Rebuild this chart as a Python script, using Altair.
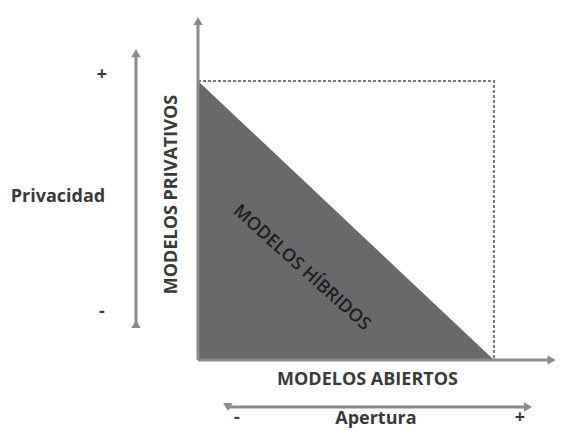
import altair as alt
import pandas as pd

# ---- diagram data (conceptual units: origin = (0,0), corner of dashed box = (1,1)) ----
tri_x = [0.0, 1.0]
tri_y = [1.0, 0.0]

box_x = [0.0, 1.0, 1.0]
box_y = [1.0, 1.0, 0.0]

# axis / arrow segments: x, y, x2, y2
seg_x = [0.0, 0.0, -0.2095, 0.101]
seg_y = [0.0, 0.0, 0.129, -0.1685]
seg_x2 = [0.0, 1.19, -0.2095, 1.115]
seg_y2 = [1.21, 0.0, 1.10, -0.1685]

# arrow heads
head_x = [0.0, 1.195, -0.2095, -0.2095, 0.101, 1.115]
head_y = [1.215, 0.0, 1.10, 0.129, -0.1685, -0.1685]
head_shape = ["triangle-up", "triangle-right", "triangle-up", "triangle-down",
              "triangle-left", "triangle-right"]

# labels
lab_text = ["+", "-", "Privacidad", "MODELOS ABIERTOS", "-", "Apertura", "+"]
lab_x = [-0.3243, -0.3243, -0.473, 0.5726, 0.1318, 0.601, 1.0878]
lab_y = [1.0215, 0.172, 0.584, -0.0717, -0.208, -0.212, -0.208]

priv_text = ["MODELOS PRIVATIVOS"]
priv_x = [-0.0878]
priv_y = [0.593]

hib_text = ["MODELOS HÍBRIDOS"]
hib_x = [0.3497]
hib_y = [0.3297]

# ---- scales ----
W, H = 548, 423
XS = alt.Scale(domain=[(8 - 198) / 296, (556 - 198) / 296], nice=False, zero=False)
YS = alt.Scale(domain=[(360 - 431) / 279, (360 - 8) / 279], nice=False, zero=False)

def X(f="x"):
    return alt.X(f"{f}:Q", scale=XS, axis=None)

def Y(f="y"):
    return alt.Y(f"{f}:Q", scale=YS, axis=None)

GRAY = "#8c8c8c"
TEXT = "#3a3a3a"
FONT = "Open Sans"

tri = alt.Chart(pd.DataFrame({"x": tri_x, "y": tri_y})).mark_area(
    color="#69696b", opacity=1
).encode(x=X(), y=Y(), y2=alt.datum(0))

box = alt.Chart(pd.DataFrame({"x": box_x, "y": box_y, "o": [0, 1, 2]})).mark_line(
    color="#7a7a7a", strokeDash=[3, 2], strokeWidth=2
).encode(x=X(), y=Y(), order="o:Q")

segs = alt.Chart(pd.DataFrame({"x": seg_x, "y": seg_y, "x2": seg_x2, "y2": seg_y2})).mark_rule(
    color=GRAY, strokeWidth=3
).encode(x=X(), y=Y(), x2="x2:Q", y2="y2:Q")

heads = alt.Chart(pd.DataFrame({"x": head_x, "y": head_y, "s": head_shape})).mark_point(
    filled=True, color=GRAY, opacity=1, size=90
).encode(
    x=X(), y=Y(),
    shape=alt.Shape("s:N", scale=alt.Scale(domain=head_shape, range=head_shape), legend=None),
)

labels = alt.Chart(pd.DataFrame({"x": lab_x, "y": lab_y, "t": lab_text})).mark_text(
    font=FONT, fontWeight="bold", fontSize=18, color=TEXT
).encode(x=X(), y=Y(), text="t:N")

priv = alt.Chart(pd.DataFrame({"x": priv_x, "y": priv_y, "t": priv_text})).mark_text(
    font=FONT, fontWeight="bold", fontSize=18, color=TEXT, angle=270
).encode(x=X(), y=Y(), text="t:N")

hib = alt.Chart(pd.DataFrame({"x": hib_x, "y": hib_y, "t": hib_text})).mark_text(
    font=FONT, fontWeight=600, fontSize=18, color="#1e1e1e", angle=42
).encode(x=X(), y=Y(), text="t:N")

chart = alt.layer(tri, box, segs, heads, labels, priv, hib).properties(
    width=W, height=H, padding=0, autosize=alt.AutoSizeParams(type="none"),
    background="white",
).configure_view(stroke=None)

chart.save("out.html", embed_options={"renderer": "svg", "actions": False})
